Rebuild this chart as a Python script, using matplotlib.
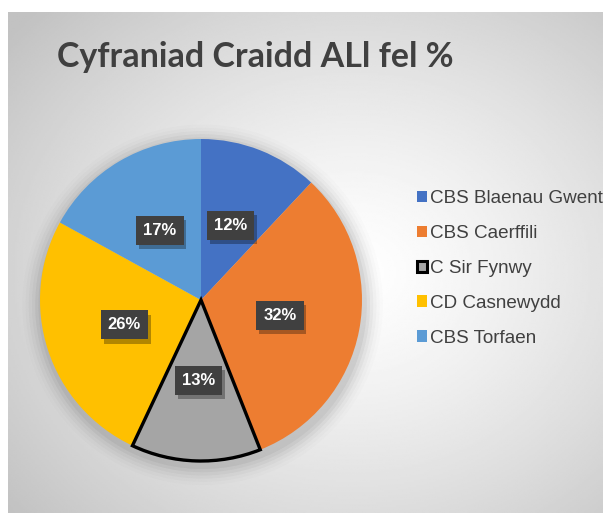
import numpy as np
import matplotlib.pyplot as plt
from matplotlib.patches import Patch
from matplotlib import patheffects as pe

labels = ["CBS Blaenau Gwent", "CBS Caerffili", "C Sir Fynwy", "CD Casnewydd", "CBS Torfaen"]
shares = [12, 32, 13, 26, 17]
colors = ["#4472C4", "#ED7D31", "#A5A5A5", "#FFC000", "#5B9BD5"]
title = "Cyfraniad Craidd ALl fel %"

W, H = 603, 513
fig = plt.figure(figsize=(W / 100, H / 100), dpi=100)
fig.patch.set_facecolor("white")

# gradient background panel
bg = fig.add_axes([8 / W, 0, 1 - 8 / W, 1 - 12 / H])
bg.set_axis_off()
yy, xx = np.mgrid[0:1:300j, 0:1:300j]
r = np.sqrt(((xx - 0.58) / 0.75) ** 2 + ((yy - 0.52) / 0.75) ** 2)
shade = 1 - 0.24 * np.clip(r, 0, 1) ** 1.3
bg.imshow(shade, cmap="gray", vmin=0, vmax=1, extent=[0, 1, 0, 1], aspect="auto")

fig.text(57 / W, 1 - 67 / H, title, fontsize=24.5, fontweight="bold",
         family="Lato", color="#404040", va="baseline", ha="left")

ax = fig.add_axes([40 / W, 52 / H, 322 / W, 322 / H])
ax.set_axis_off()

# soft shadow behind the pie
for i, a in enumerate(np.linspace(0.045, 0.01, 6)):
    ax.add_patch(plt.Circle((0.01, -0.03), 1 + 0.02 * (i + 1), color="black",
                            alpha=a, zorder=0, lw=0, clip_on=False))

wedges, texts, autotexts = ax.pie(
    shares, colors=colors, startangle=90, counterclock=False,
    autopct=lambda p: f"{p:.0f}%", pctdistance=0.5,
    wedgeprops=dict(linewidth=0),
    textprops=dict(color="white", fontsize=12, fontweight="bold", family="Liberation Sans"),
)
wedges[2].set_edgecolor("black")
wedges[2].set_linewidth(2.4)
wedges[2].set_zorder(3)

for t in autotexts:
    t.set_zorder(5)
    t.set_bbox(dict(boxstyle="square,pad=0.42", facecolor="#404040", edgecolor="none"))
    t.get_bbox_patch().set_path_effects([
        pe.SimplePatchShadow(offset=(2, -3), shadow_rgbFace="black", alpha=0.3), pe.Normal()])

ax.set_xlim(-1, 1)
ax.set_ylim(-1, 1)

handles = []
for lab, c in zip(labels, colors):
    if lab == "C Sir Fynwy":
        handles.append(Patch(facecolor=c, edgecolor="black", linewidth=2.2, label=lab))
    else:
        handles.append(Patch(facecolor=c, edgecolor="none", label=lab))

leg = fig.legend(handles=handles, loc="upper left", bbox_to_anchor=(417 / W, 1 - 190 / H),
                 frameon=False, prop=dict(family="Liberation Sans", size=13.6),
                 handlelength=0.55, handleheight=0.55, handletextpad=0.15,
                 labelspacing=0.95, borderpad=0, borderaxespad=0)
for t in leg.get_texts():
    t.set_color("#404040")

fig.savefig("out.png", dpi=100)
